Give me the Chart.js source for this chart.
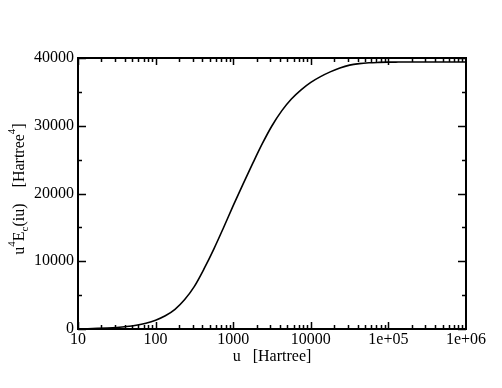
<!DOCTYPE html>
<html>
<head>
<meta charset="utf-8">
<script src="https://cdn.jsdelivr.net/npm/chart.js@4/dist/chart.umd.min.js"></script>
<style>
  html, body { margin: 0; padding: 0; background: #fff; }
  canvas { display: block; }
</style>
</head>
<body>
<canvas id="energyChart" width="502" height="388"></canvas>
<script>
// data (u in Hartree, u^4 Ec(iu) in Hartree^4)
// sampled every 1/8 decade
const uValues = [10, 13.34, 17.78, 23.71, 31.62, 42.17, 56.23, 74.99,
    100, 133.4, 177.8, 237.1, 316.2, 421.7, 562.3, 749.9,
    1000, 1334, 1778, 2371, 3162, 4217, 5623, 7499,
    10000, 13340, 17780, 23710, 31620, 42170, 56230, 74990,
    100000, 133400, 177800, 237100, 316200, 421700, 562300, 749900, 1000000];
const energyValues = [20, 45, 85, 145, 230, 360, 560, 860,
    1300, 1950, 2900, 4350, 6300, 8900, 11800, 14950,
    18200, 21350, 24400, 27350, 30000, 32200, 33950, 35300,
    36400, 37250, 37950, 38530, 38950, 39170, 39290, 39350,
    39385, 39400, 39410, 39415, 39420, 39420, 39420, 39420, 39420];

const xMajorTicks = [10, 100, 1000, 10000, 100000, 1000000];
const xTickLabels = ['10', '100', '1000', '10000', '1e+05', '1e+06'];
const yMajorTicks = [0, 10000, 20000, 30000, 40000];
const yTickLabels = ['0', '10000', '20000', '30000', '40000'];

const FONT = 'Liberation Serif';

// inward ticks on all four sides plus the frame, like xmgrace
const frameAndTicks = {
    id: 'frameAndTicks',
    afterDraw(chart) {
        const ctx = chart.ctx;
        const {left, right, top, bottom} = chart.chartArea;
        const xs = chart.scales.x;
        const ys = chart.scales.y;
        ctx.save();
        ctx.strokeStyle = '#000';
        ctx.lineWidth = 1.5;
        ctx.beginPath();
        // x ticks
        for (let d = 10; d < 1000000; d *= 10) {
            for (let m = 1; m < 10; m++) {
                const px = Math.round(xs.getPixelForValue(d * m)) + 0.5;
                const len = m === 1 ? 7 : 4;
                ctx.moveTo(px, bottom); ctx.lineTo(px, bottom - len);
                ctx.moveTo(px, top); ctx.lineTo(px, top + len);
            }
        }
        // y ticks
        for (let v = 0; v <= 40000; v += 5000) {
            const py = Math.round(ys.getPixelForValue(v)) + 0.5;
            const len = v % 10000 === 0 ? 8 : 4;
            ctx.moveTo(left, py); ctx.lineTo(left + len, py);
            ctx.moveTo(right, py); ctx.lineTo(right - len, py);
        }
        ctx.stroke();
        ctx.lineWidth = 2;
        ctx.strokeRect(left, top, right - left, bottom - top);

        // y axis title with super/subscripts
        const pieces = [
            {t: 'u', f: 16, dy: 0},
            {t: '4', f: 11, dy: -9},
            {t: 'E', f: 16, dy: 0},
            {t: 'c', f: 11, dy: 4},
            {t: '(iu)', f: 16, dy: 0},
            {t: '    [Hartree', f: 16, dy: 0},
            {t: '4', f: 11, dy: -9},
            {t: ']', f: 16, dy: 0},
        ];
        let total = 0;
        for (const p of pieces) {
            ctx.font = p.f + 'px "' + FONT + '"';
            p.w = ctx.measureText(p.t).width;
            total += p.w;
        }
        ctx.translate(24, 189);
        ctx.rotate(-Math.PI / 2);
        ctx.fillStyle = '#000';
        ctx.textBaseline = 'alphabetic';
        let x = -total / 2;
        for (const p of pieces) {
            ctx.font = p.f + 'px "' + FONT + '"';
            ctx.fillText(p.t, x, p.dy);
            x += p.w;
        }
        ctx.restore();
    },
};

new Chart(document.getElementById('energyChart').getContext('2d'), {
    type: 'line',
    data: {
        labels: uValues,
        datasets: [{
            data: uValues.map((u, i) => ({x: u, y: energyValues[i]})),
            borderColor: '#000',
            borderWidth: 1.6,
            pointRadius: 0,
            fill: false,
            cubicInterpolationMode: 'monotone',
        }],
    },
    options: {
        responsive: false,
        animation: false,
        layout: {padding: {top: 58, right: 36, left: 0, bottom: 0}},
        plugins: {legend: {display: false}, tooltip: {enabled: false}},
        scales: {
            x: {
                type: 'logarithmic',
                min: 10,
                max: 1000000,
                grid: {display: false, drawTicks: false},
                border: {display: false},
                afterBuildTicks: (scale) => {
                    scale.ticks = xMajorTicks.map(v => ({value: v}));
                },
                afterFit: (scale) => { scale.height = 59; },
                ticks: {
                    autoSkip: false,
                    maxRotation: 0,
                    padding: 1,
                    color: '#000',
                    font: {family: FONT, size: 16},
                    callback: (v, i) => xTickLabels[i],
                },
                title: {
                    display: true,
                    text: 'u   [Hartree]',
                    color: '#000',
                    font: {family: FONT, size: 16},
                    padding: {top: 0, bottom: 22},
                },
            },
            y: {
                type: 'linear',
                min: 0,
                max: 40000,
                grid: {display: false, drawTicks: false},
                border: {display: false},
                afterBuildTicks: (scale) => {
                    scale.ticks = yMajorTicks.map(v => ({value: v}));
                },
                afterFit: (scale) => { scale.width = 78; },
                ticks: {
                    padding: 4,
                    color: '#000',
                    font: {family: FONT, size: 16},
                    callback: (v, i) => yTickLabels[i],
                },
            },
        },
    },
    plugins: [frameAndTicks],
});
</script>
</body>
</html>
